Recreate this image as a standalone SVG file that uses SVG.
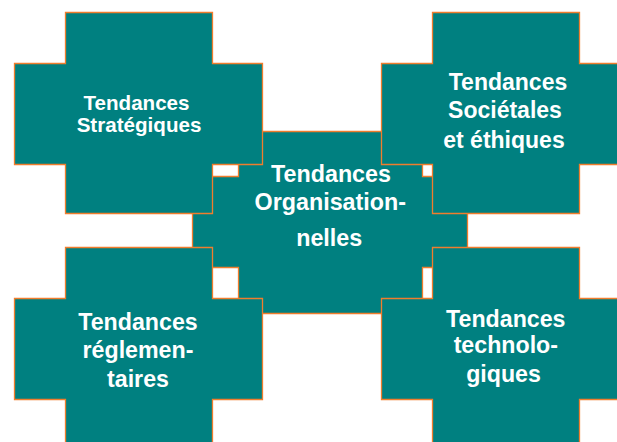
<svg xmlns="http://www.w3.org/2000/svg" width="617" height="442" viewBox="0 0 617 442">
<style>
.shape{fill:#008080;stroke:#F07D2D;stroke-width:1.3}
.lbl{fill:#FFFFFF;font-family:"Liberation Sans",Arial,sans-serif;font-weight:bold;text-anchor:middle}
</style>
<rect width="617" height="442" fill="#FFFFFF"/>
<g id="connectors"/>
<g id="node-organisationnelles">
<path class="shape" d="M238.5,131.5 H422.5 V176.5 H467.5 V267.5 H422.5 V313.5 H238.5 V267.5 H192.5 V176.5 H238.5 Z"/>
<text class="lbl" font-size="23.3"><tspan x="331" y="181.7">Tendances</tspan><tspan x="330.3" y="210">Organisation-</tspan><tspan x="329.2" y="245.7">nelles</tspan></text>
</g>
<g id="node-strategiques">
<path class="shape" d="M65.5,12.5 H212.5 V63.5 H262.5 V164.5 H212.5 V213.5 H65.5 V164.5 H14.5 V63.5 H65.5 Z"/>
<text class="lbl" font-size="20.6"><tspan x="136.5" y="110">Tendances</tspan><tspan x="139" y="131.7">Stratégiques</tspan></text>
</g>
<g id="node-societales">
<path class="shape" d="M432.5,12.5 H579.5 V63.5 H629.5 V164.5 H579.5 V213.5 H432.5 V164.5 H381.5 V63.5 H432.5 Z"/>
<text class="lbl" font-size="23"><tspan x="508" y="90">Tendances</tspan><tspan x="505" y="118.3">Sociétales</tspan><tspan x="504" y="148.3">et éthiques</tspan></text>
</g>
<g id="node-reglementaires">
<path class="shape" d="M65.5,247.5 H212.5 V298.5 H262.5 V399.5 H212.5 V448.5 H65.5 V399.5 H14.5 V298.5 H65.5 Z"/>
<text class="lbl" font-size="23.2"><tspan x="138" y="330">Tendances</tspan><tspan x="138" y="358.3">réglemen-</tspan><tspan x="138" y="386.7">taires</tspan></text>
</g>
<g id="node-technologiques">
<path class="shape" d="M432.5,247.5 H579.5 V298.5 H629.5 V399.5 H579.5 V448.5 H432.5 V399.5 H381.5 V298.5 H432.5 Z"/>
<text class="lbl" font-size="23.2"><tspan x="505.8" y="326.7">Tendances</tspan><tspan x="505.8" y="353.3">technolo-</tspan><tspan x="503.5" y="381.7">giques</tspan></text>
</g>
</svg>
